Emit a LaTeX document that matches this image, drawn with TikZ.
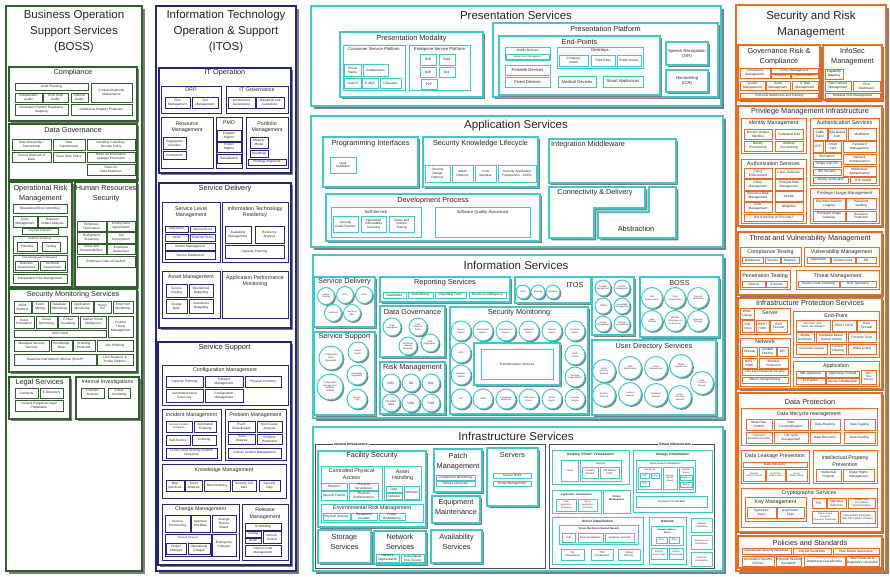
\documentclass[tikz,border=0pt]{standalone}
\usepackage{fontspec}
\setmainfont{Liberation Sans}
\usetikzlibrary{shadows}
\definecolor{bossg}{HTML}{2F5F2A}
\definecolor{itosb}{HTML}{25257F}
\definecolor{turq}{HTML}{3CC9C9}
\definecolor{orng}{HTML}{F26A1B}
\definecolor{shd}{HTML}{7E7E7E}
\newcommand\szA{\fontsize{11.5}{16}\selectfont}
\newcommand\szB{\fontsize{7.3}{10}\selectfont}
\newcommand\szC{\fontsize{5.3}{6.5}\selectfont}
\newcommand\szCs{\fontsize{4.2}{5}\selectfont}
\newcommand\szD{\fontsize{3.2}{3.8}\selectfont}
\newcommand\szE{\fontsize{2.6}{3.1}\selectfont}
\newcommand\szF{\fontsize{2.2}{2.6}\selectfont}
\tikzset{
  col/.style={draw=black},
  bxs/.style={col, fill=white, line width=.8pt, drop shadow={shadow xshift=1.4pt, shadow yshift=-1.4pt, fill=shd, opacity=1}},
  bxm/.style={col, fill=white, line width=1.2pt, drop shadow={shadow xshift=2.4pt, shadow yshift=-2.4pt, fill=shd, opacity=1}},
  bxl/.style={col, fill=white, line width=1.4pt, drop shadow={shadow xshift=3.4pt, shadow yshift=-3.4pt, fill=shd, opacity=1}},
  bt/.style={align=center, inner sep=0pt, text=black!85},
  cir/.style={circle, col, fill=white, line width=1pt, inner sep=0pt, align=center, font=\szF, text=black!85,
    drop shadow={shadow xshift=1.4pt, shadow yshift=-1.4pt, fill=shd, opacity=1}},
  frm/.style={draw=black!70, line width=.6pt},
  frmlbl/.style={fill=white, inner sep=1pt, font=\szD\bfseries}
}
\newcounter{bxn}
\NewDocumentCommand\bx{O{bxs}mmmmO{\szD}m}{%
  \stepcounter{bxn}%
  \draw[#1] (#2,#3) rectangle (#4,#5);
  \node[bt,font=#6] (b\thebxn) at ({(#2+#4)/2},{(#3+#5)/2}) {#7};}
\NewDocumentCommand\tb{O{bxm}mmmmmO{\szB}m}{%
  \stepcounter{bxn}%
  \draw[#1] (#2,#3) rectangle (#4,#5);
  \node[bt,font=#7] (t\thebxn) at ({(#2+#4)/2},#6) {#8};}
\NewDocumentCommand\ci{mmmO{\szF}m}{%
  \stepcounter{bxn}%
  \node[cir,font=#4,minimum size=2*#3] (c\thebxn) at (#1,#2) {#5};}
\begin{document}
\begin{tikzpicture}[x=1pt,y=-1pt]
\fill[white] (0,0) rectangle (890,576);
\useasboundingbox (0,0) rectangle (890,576);

\begin{scope}[col/.style={draw=bossg}]
\draw[bxl] (6,6) rectangle (142,571);
\node[bt,font=\szA] (boss) at (74,32) {Business Operation\\Support Services\\(BOSS)};
\tb{9}{67}{137}{121}{73}{Compliance}
\bx{15}{83}{88}{90}{Audit Planning}
\bx{15}{93}{42}{102}{Independent\\Audits}
\bx{43}{93}{68}{102}{Third Party\\Audits}
\bx{71}{93}{88}{102}{Internal\\Audits}
\bx{91}{83}{132}{102}{Contract/Authority\\Maintenance}
\bx{15}{104}{68}{115}{Information System Regulatory\\Mapping}
\bx{71}{104}{132}{115}{Intellectual Property Protection}
\tb{9}{124}{137}{180}{130}{Data Governance}
\bx{12}{139}{51}{150}{Data Ownership /\\Stewardship}
\bx{53}{139}{85}{150}{Data\\Classification}
\bx{87}{139}{135}{150}{Handling / Labeling /\\Security Policy}
\bx{12}{152}{51}{162}{Secure Disposal of\\Data}
\bx{53}{152}{85}{162}{Clear Desk Policy}
\bx{87}{152}{135}{162}{Rules for Information\\Leakage Prevention}
\bx{87}{164}{135}{175}{Rules for\\Data Retention}
\tb{9}{182}{72}{287}{193.5}{Operational Risk\\Management}
\bx{13}{204}{67}{213}{Operational Risk Committee}
\bx{13}{216}{37}{227}{Crisis\\Management}
\bx{38}{216}{67}{227}{Business\\Impact Analysis}
\bx{22}{228}{58}{234}[\szE]{Key Risk Indicators}
\tb[bxs]{13}{236}{67}{253}{239}[\szE]{Business Continuity}
\bx{17}{242}{37}{251}{Planning}
\bx{42}{242}{60}{251}{Testing}
\tb[bxs]{13}{255}{67}{272}{258}[\szE]{Risk Management Framework}
\bx{15}{261}{38}{270}{Business\\Assessment}
\bx{40}{261}{65}{270}{Technical\\Assessment}
\bx{13}{274}{67}{283}{Independent Risk Management}
\tb{75}{182}{137}{287}{194}{Human Resources\\Security}
\bx{77}{221}{106}{231}{Employee\\Termination}
\bx{107}{221}{135}{231}{Employment\\Agreements}
\bx{77}{232}{106}{243}{Background\\Screening}
\bx{107}{232}{135}{243}{Job\\Descriptions}
\bx{77}{244}{106}{254}{Roles and\\Responsibilities}
\bx{107}{244}{135}{254}{Employee\\Awareness}
\bx{77}{256}{135}{267}{Employee Code of Conduct}
\tb{9}{289}{137}{372}{295}{Security Monitoring Services}
\bx{14}{301}{31}{313}{SIEM\\Platform}
\bx{32}{301}{48}{313}{Event\\Mining}
\bx{50}{301}{69}{313}{Database\\Monitoring}
\bx{71}{301}{93}{313}{Application\\Monitoring}
\bx{94}{301}{111}{313}{Honey\\Pot}
\bx{113}{301}{133}{313}{End-Point\\Monitoring}
\bx{14}{316}{34}{328}{Event\\Correlation}
\bx{36}{316}{57}{328}{Cloud\\Monitoring}
\bx{58}{316}{78}{328}{E-Mail\\Journaling}
\bx{80}{316}{106}{328}{Market Threat\\Intelligence}
\bx{108}{316}{133}{337}{Counter\\Threat\\Management}
\bx{14}{330}{106}{337}{SOC Portal}
\bx{14}{340}{49}{351}{Managed Security\\Services}
\bx{51}{340}{72}{351}{Knowledge\\Base}
\bx{73}{340}{95}{351}{Branding\\Protection}
\bx{97}{340}{133}{351}{Anti-Phishing}
\bx{14}{354}{96}{365}{Real-time internetwork defense (SCAP)}
\bx{97}{354}{133}{365}{User Behavior \&\\Profile Patterns}
\tb{9}{377}{70}{419}{383}{Legal Services}
\bx{15}{388}{38}{398}{Contracts}
\bx{40}{388}{63}{398}{E-Discovery}
\bx{15}{400}{63}{411}{Incident Response Legal\\Preparation}
\tb{76}{377}{139}{419}{382}[\szC]{Internal Investigations}
\bx{81}{388}{104}{398}{Forensic\\Analysis}
\bx{108}{388}{130}{398}{e-Mail\\Journaling}
\end{scope}

\begin{scope}[col/.style={draw=itosb}]
\draw[bxl] (156,6) rectangle (296,571);
\node[bt,font=\szA] (itos) at (226,32) {Information Technology\\Operation \& Support\\(ITOS)};
\tb{159}{68}{291}{173}{73}{IT Operation}
\tb[bxs]{161}{86}{221}{113}{90}[\szC]{DRP}
\bx{165}{97}{190}{108}{Plan\\Management}
\bx{192}{97}{218}{108}{Test\\Management}
\tb[bxs]{226}{86}{288}{113}{90}[\szC]{IT Governance}
\bx{228}{97}{255}{108}{Architecture\\Governance}
\bx{256}{97}{284}{108}{Standards and\\Guidelines}
\tb[bxs]{161}{117}{213}{168}{127}[\szC]{Resource\\Management}
\bx{163}{137}{186}{149}{Segregation\\of Duties}
\bx{163}{151}{186}{159}{Contractors}
\tb[bxs]{216}{117}{242}{168}{123}[\szC]{PMO}
\bx{217}{130}{241}{141}{Program\\Mgmnt}
\bx{217}{142}{241}{152}{Project\\Mgmnt}
\bx{217}{154}{241}{163}{Remediation}
\tb[bxs]{246}{117}{288}{168}{127}[\szC]{Portfolio\\Management}
\bx{250}{137}{268}{148}{Maturity\\Model}
\bx{250}{150}{268}{157}{Roadmap}
\bx{248}{159}{286}{165}{Strategy Alignment}
\tb{159}{183}{291}{328}{189}{Service Delivery}
\tb[bxs]{162}{202}{220}{262}{212}[\szC]{Service Level\\Management}
\bx{165}{226}{188}{232}{Objectives}
\bx{190}{226}{215}{232}{Internal SLAs}
\bx{165}{234}{188}{241}{OLAs}
\bx{190}{234}{215}{241}{External SLAs}
\bx{165}{243}{215}{250}{Vendor Management}
\bx{165}{251}{215}{259}{Service Dashboard}
\tb[bxs]{222}{202}{288}{262}{212}[\szC]{Information Technology\\Resiliency}
\bx{225}{226}{251}{243}{Availability\\Management}
\bx{255}{226}{284}{243}{Resiliency\\Analysis}
\bx{225}{245}{284}{258}{Capacity Planning}
\tb[bxs]{162}{271}{220}{318}{277}[\szC]{Asset Management}
\bx{166}{284}{187}{297}{Service\\Costing}
\bx{189}{284}{213}{297}{Operational\\Budgeting}
\bx{166}{299}{187}{313}{Charge\\Back}
\bx{189}{299}{213}{313}{Investment\\Budgeting}
\tb[bxs]{222}{271}{288}{318}{281}[\szC]{Application Performance\\Monitoring}
\tb{158}{342}{291}{565}{348}{Service Support}
\tb[bxs]{162}{365}{288}{405}{370}[\szC]{Configuration Management}
\bx{166}{376}{203}{387}{Capacity Planning}
\bx{205}{376}{243}{387}{Software\\Management}
\bx{245}{376}{281}{387}{Physical Inventory}
\bx{166}{389}{203}{402}{Automated Asset\\Discovery}
\bx{205}{389}{243}{402}{Configuration\\Management}
\tb[bxs]{162}{409}{221}{460}{415}[\szC]{Incident Management}
\bx{166}{421}{192}{432}[\szE]{Security Incident\\Response}
\bx{194}{421}{216}{432}{Automated\\Ticketing}
\bx{166}{435}{190}{445}{Self-Service}
\bx{192}{435}{216}{445}{Ticketing}
\bx{166}{448}{217}{458}{Cross Cloud Security Incident\\Response}
\tb[bxs]{225}{409}{286}{460}{415}[\szC]{Problem Management}
\bx{228}{421}{255}{432}{Event\\Classification}
\bx{257}{421}{282}{432}{Root Cause\\Analysis}
\bx{228}{434}{255}{444}{Trend\\Analysis}
\bx{257}{434}{282}{444}{Problem\\Resolution}
\bx{228}{448}{281}{458}{Orphan Incident Management}
\tb[bxs]{162}{464}{286}{498}{470}[\szC]{Knowledge Management}
\bx{166}{480}{184}{491}{Best\\practices}
\bx{185}{480}{202}{491}{Trend\\Analysis}
\bx{204}{480}{230}{491}{Benchmarking}
\bx{232}{480}{256}{491}{Security Job\\Aids}
\bx{259}{480}{280}{491}{Security\\FAQ}
\tb[bxs]{162}{504}{239}{560}{509}[\szC]{Change Management}
\bx{165}{515}{190}{532}{Service\\Provisioning}
\bx{191}{515}{210}{532}{Approval\\Workflow}
\bx{212}{515}{236}{532}{Change\\Review\\Board}
\tb[bxs]{165}{534}{211}{556}{538}[\szE]{Planned Changes}
\bx{166}{543}{186}{554}{Project\\Changes}
\bx{188}{543}{210}{554}{Operational\\Chages}
\bx{212}{534}{236}{556}{Emergency\\Changes}
\tb[bxs]{242}{504}{288}{560}{513.5}[\szC]{Release\\Management}
\bx{245}{523}{281}{530}{Scheduling}
\bx{245}{531}{261}{537}{Testing}
\bx{245}{538}{261}{543}{Build}
\bx{263}{531}{281}{543}{Version\\Control}
\bx{245}{545}{281}{556}{Source Code\\Management}
\end{scope}

\begin{scope}[col/.style={draw=turq}]
\draw[bxl] (311,6) rectangle (721,106);
\node[bt,font=\szA] (pres) at (516,15) {Presentation Services};
\tb{340}{32}{483}{97}{39}{Presentation Modality}
\tb[bxs]{343}{45}{405}{90}{49}[\szCs]{Consumer Service Platform}
\bx{344}{64}{361}{76}{Social\\Media}
\bx{363}{64}{388}{76}{Collaboration}
\bx{344}{78}{361}{88}{Search}
\bx{362}{78}{378}{88}{E-Mail}
\bx{380}{78}{401}{88}{e-Readers}
\tb[bxs]{409}{45}{470}{90}{49}[\szCs]{Enterprise Service Platform}
\bx{420}{54}{436}{65}{B2B}
\bx{439}{54}{455}{65}{B2M}
\bx{420}{67}{436}{77}{B2E}
\bx{439}{67}{455}{77}{B2C}
\bx{421}{79}{437}{89}{P2P}
\tb{493}{23}{718}{97}{29}{Presentation Platform}
\tb{499}{36}{660}{95}{42}{End-Points}
\tb[bxs]{505}{47}{550}{60}{50.5}[\szD]{Mobile Devices}
\bx{506}{54}{549}{59}[\szF]{Mobile Device Management}
\bx{505}{65}{550}{75}[\szCs]{Portable Devices}
\bx{505}{77}{550}{87}[\szCs]{Fixed Devices}
\tb[bxs]{557}{47}{643}{68}{50.5}[\szCs]{Desktops}
\bx{559}{55}{588}{66}{Company\\owned}
\bx{591}{55}{615}{66}{Third Party}
\bx{617}{55}{641}{66}{Public Kiosks}
\bx{558}{76}{596}{87}[\szCs]{Medical Devices}
\bx{603}{76}{643}{87}[\szCs]{Smart Appliances}
\bx[bxm]{666}{42}{708}{65}[\szCs]{Speech Recognition\\(IVR)}
\bx[bxm]{666}{70}{708}{92}[\szCs]{Handwriting\\(ICR)}

\draw[bxl] (311,116) rectangle (723,247);
\node[bt,font=\szA] (apps) at (516,126) {Application Services};
\tb{323}{137}{418}{187}{144}{Programming Interfaces}
\bx{330}{157}{356}{173}{Input\\Validation}
\tb{423}{137}{538}{187}{144}{Security Knowledge Lifecycle}
\bx{425}{165}{450}{182}{Security\\Design\\Patterns}
\bx{452}{165}{473}{182}{Attack\\Patterns}
\bx{475}{165}{496}{182}{Code\\Samples}
\bx{498}{165}{536}{182}{Security Application\\Frameworks - ACEG}
\draw[bxm] (549,139) rectangle (676,183);
\node[bt,font=\szB,anchor=west] (intmw) at (551,145) {Integration Middleware};
\tb{326}{194}{540}{241}{201}{Development Process}
\tb[bxs]{331}{207}{421}{237}{212}[\szCs]{Self-Service}
\bx{333}{216}{358}{232}{Security\\Code Reviews}
\bx{361}{216}{386}{232}{Application\\Vulnerability\\Scanning}
\bx{389}{216}{414}{232}{Stress and\\Volume\\Testing}
\tb[bxs]{435}{207}{530}{237}{212}[\szCs]{Software Quality Assurance}
\draw[bxm] (549,187) -- (645,187) -- (645,208) -- (594,208) -- (594,238) -- (549,238) -- cycle;
\node[bt,font=\szB] (condel) at (595,193) {Connectivity \& Delivery};
\draw[bxm] (598,212) -- (649,212) -- (649,187) -- (676,187) -- (676,238) -- (598,238) -- cycle;
\node[bt,font=\szB] (abstr) at (636,229) {Abstraction};

\draw[bxl] (313,255) rectangle (723,418);
\node[bt,font=\szA] (infos) at (516,265) {Information Services};
\tb{314}{277}{375}{327}{282}{Service Delivery}
\ci{326}{296}{8.5}{Service\\Catalog}
\ci{345}{295}{8.5}{SLAs}
\ci{364}{295}{8.5}{OLAs}
\ci{333}{313}{8.5}{Contracts}
\ci{352}{313}{8.5}{Recovery\\Plans}
\tb{314}{332}{375}{415}{337}{Service Support}
\ci{331}{358}{12}{Configuration\\Rules\\(Metadata)}
\ci{358}{352}{10}{Service\\Events}
\ci{357}{375}{10}{Knowledge\\Repository}
\ci{330}{387}{13}{Configuration\\Management\\Database\\(CMDB)}
\ci{357}{399}{10}{Change\\Logs}
\tb{380}{277}{510}{302}{283}{Reporting Services}
\bx{383}{292}{406}{298}{Dashboard}
\bx{408}{292}{433}{298}{Data Mining}
\bx{435}{292}{466}{298}{Reporting Tools}
\bx{469}{292}{506}{298}{Business Intelligence}
\draw[bxm] (515,277) rectangle (591,303);
\node[bt,font=\szB] (itosi) at (575,285) {ITOS};
\foreach \x/\lbl in {523/PMO,538/Strategy,553/Roadmap}
  \ci{\x}{292}{7}{\lbl};
\draw[bxm] (592,277) rectangle (634,335);
\ci{603}{288}{8}{Problem\\Management}
\ci{622}{288}{8}{Incident\\Management}
\ci{603}{306}{8}{CMDB}
\ci{622}{306}{8}{Knowledge\\Management}
\ci{603}{324}{8}{Service\\Management}
\ci{622}{324}{8}{Change\\Management}
\tb{640}{277}{719}{337}{283}{BOSS}
\ci{652}{298}{10.5}{Risk\\Assessments}
\ci{675}{298}{10.5}{Data\\Classification}
\ci{698}{298}{10.5}{Process\\Ownership}
\ci{652}{321}{10.5}{Audit\\Findings}
\ci{675}{321}{10.5}{HR Data\\(Employees \&\\Contractors)}
\ci{698}{321}{10.5}{Business\\Strategy}
\tb{380}{306}{445}{357}{312}{Data Governance}
\ci{392}{327}{9}{Data\\Segregation}
\ci{418}{327}{9}{Data\\Retention\\Rules}
\ci{408}{346}{9}{Information\\Leakage\\Metadata}
\ci{430}{343}{9}{Data\\Aggregation}
\tb{380}{362}{445}{414}{368}{Risk Management}
\foreach \x/\lbl in {391/GRC,411/RA,431/BIA}
  \ci{\x}{383}{9}[\szD]{\lbl};
\ci{391}{403}{9}[\szE]{DR \& BC\\Plans}
\ci{411}{403}{9}[\szD]{VRA}
\ci{431}{403}{9}[\szD]{TVM}
\tb{450}{307}{588}{414}{313}{Security Monitoring}
\foreach \x/\lbl in {461/{Session\\Events},483/{Authorization\\Events},506/{Authentication\\Events},529/{Application\\Events},552/{Network\\Events},575/{Computer\\Events}}
  \ci{\x}{331}{10}{\lbl};
\ci{461}{353}{10}{HIPS}
\ci{461}{375}{10}{Database\\Events}
\ci{575}{355}{10}{NIPS\\Events}
\ci{575}{377}{10}{Privilege\\Usage Events}
\foreach \x/\lbl in {461/DLP,483/SIEM,506/{Compliance\\Monitoring},529/{eDiscovery\\Events},552/{Email\\Events},575/{Inventory\\Events}}
  \ci{\x}{399}{10}{\lbl};
\draw[bxm] (474,343) rectangle (560,385);
\draw[col,line width=.9pt] (481,349) rectangle (553,379);
\node[bt,font=\szD] (trans) at (517,364) {Transformation Services};
\tb{592}{340}{716}{415}{347}{User Directory Services}
\ci{604}{371}{11.5}{Active\\Directory\\Services}
\ci{630}{368}{11.5}{LDAP\\Repositories}
\ci{656}{368}{11.5}{X.500\\Repositories}
\ci{681}{366}{11.5}{DBMS\\Repositories}
\ci{702}{383}{11.5}{Meta\\Directory\\Services}
\ci{604}{395}{11.5}{Registry\\Services}
\ci{630}{394}{11.5}{Location\\Services}
\ci{656}{395}{11.5}{Federated\\Services}
\ci{680}{397}{11.5}{Virtual\\Directory\\Services}

\draw[bxl] (313,427) rectangle (723,571);
\node[bt,font=\szA] (infra) at (516,436) {Infrastructure Services};
\draw[frm] (315,444) rectangle (545,568);
\node[frmlbl] (intinf) at (351,444) {Internal Infrastructure};
\draw[frm] (549,444) rectangle (714,568);
\node[frmlbl] (virinf) at (675,444) {Virtual Infrastructure};
\tb{318}{451}{426}{527}{456}{Facility Security}
\tb[bxs]{321}{466}{382}{500}{474}[\szC]{Controlled Physical\\Access}
\bx{321}{483}{347}{490}{Barriers}
\bx{349}{483}{378}{490}{Physical\\Surveillance}
\bx{321}{491}{347}{500}{Security Patrols}
\bx{349}{491}{378}{500}{Physical\\Authentication}
\tb[bxs]{384}{466}{421}{500}{475}[\szC]{Asset\\Handling}
\bx{386}{486}{402}{492}{Data}
\bx{386}{493}{402}{499}{Software}
\bx{404}{486}{419}{499}{Hardware}
\tb[bxs]{321}{504}{423}{522}{508.5}[\szC]{Environmental Risk Management}
\bx{323}{513}{350}{520}{Physical Security}
\bx{351}{513}{377}{520}{Equipment\\Location}
\bx{379}{513}{405}{520}{Power\\Redundancy}
\tb{434}{449}{482}{492}{461.5}{Patch\\Management}
\bx{436}{475}{475}{480}{Compliance Monitoring}
\bx{436}{481}{475}{486}{Service Discovery}
\tb{487}{448}{538}{506}{455}{Servers}
\bx{493}{473}{531}{478}{Secure Build}
\bx{493}{481}{531}{486}{Image Management}
\tb{432}{496}{480}{523}{507}{Equipment\\Maintenance}
\tb{318}{530}{371}{563}{542}{Storage\\Services}
\tb{374}{531}{426}{564}{542}{Network\\Services}
\bx{376}{554}{399}{562}{Network\\Segmentation}
\bx{401}{554}{424}{562}{Authoritative\\Time Source}
\tb{431}{530}{482}{563}{542}{Availability\\Services}
\tb[bxs]{552}{450}{629}{484}{454.5}[\szD\bfseries]{Desktop ``Client'' Virtualization}
\bx{561}{460}{578}{481}[\szE]{Local}
\tb[bxs]{580}{460}{621}{481}{463.5}[\szE]{Remote}
\bx{582}{467}{598}{478}[\szE]{Session\\Based}
\bx{600}{467}{619}{478}[\szE]{VM Based\\(VDI)}
\tb[bxs]{633}{450}{712}{512}{455}[\szD\bfseries]{Storage Virtualization}
\tb[bxs]{636}{460}{695}{492}{464}[\szE]{Block-Based Virtualization}
\tb[bxs]{638}{467}{661}{489}{470}[\szF]{Host Based}
\bx{640}{473}{649}{478}[\szF]{LVM}
\bx{651}{473}{659}{478}[\szF]{LDM}
\bx{640}{481}{649}{486}[\szF]{LUN}
\bx{663}{467}{677}{489}[\szF]{Storage\\Device\\Based}
\tb[bxs]{679}{467}{693}{489}{471}[\szF]{Network\\Based}
\bx{680}{475}{692}{480}[\szF]{Appliance}
\bx{680}{482}{692}{487}[\szF]{Switch}
\bx{636}{496}{707}{507}[\szE]{File Based Virtualization}
\tb[bxs]{552}{490}{601}{513}{494.5}[\szE\bfseries]{Application Virtualization}
\bx{556}{499}{576}{511}[\szF]{Client\\Application\\Streaming}
\bx{578}{499}{597}{511}[\szF]{Server\\Application\\Streaming}
\tb[bxs]{603}{490}{630}{513}{498.5}[\szE\bfseries]{Virtual\\Workspaces}
\tb[bxs]{552}{517}{643}{564}{521.5}[\szD\bfseries]{Server Virtualization}
\tb[bxs]{559}{525}{638}{544}{529}[\szE\bfseries]{Virtual Machines (Hosted Based)}
\bx{562}{533}{575}{542}[\szE]{Full}
\bx{578}{533}{603}{542}[\szE]{Para-Virtualization}
\bx{605}{533}{634}{542}[\szE]{Hardware Assisted}
\bx{561}{549}{584}{560}[\szE]{OS\\Virtualization}
\bx{591}{549}{613}{560}[\szE]{TPM\\Virtualization}
\bx{618}{549}{640}{560}[\szE]{Virtual\\Memory}
\tb[bxs]{649}{517}{686}{564}{521.5}[\szD\bfseries]{Network}
\tb[bxs]{651}{526}{683}{545}{531.5}[\szF\bfseries]{Network Address\\Space}
\bx{656}{537}{667}{543}[\szF]{IPv4}
\bx{669}{537}{679}{543}[\szF]{IPv6}
\bx{651}{548}{667}{559}[\szF]{External\\(Inter-Cloud)}
\bx{669}{548}{683}{559}[\szF]{Internal\\(Intra-Cloud)}
\bx{691}{518}{712}{532}[\szF]{Database\\Virtualization}
\bx{691}{535}{712}{549}[\szF]{Mobile Device\\Virtualization}
\bx{691}{552}{712}{566}[\szF]{Smartcard\\Virtualization}
\end{scope}

\begin{scope}[col/.style={draw=orng}]
\draw[bxl] (736,5) rectangle (886,571);
\node[bt,font=\szA] (secrisk) at (811,24.5) {Security and Risk\\Management};
\tb{738}{45}{820}{100}{57}{Governance Risk \&\\Compliance}
\bx{740}{68}{770}{78}{Compliance\\Management}
\bx{771}{68}{818}{73}{Policy Management}
\bx{771}{74}{790}{78}[\szF]{Exceptions}
\bx{791}{74}{818}{78}[\szF]{Technical Controls}
\bx{740}{81}{765}{90}{Vendor\\Management}
\bx{766}{81}{790}{90}{Audit\\Management}
\bx{792}{81}{818}{90}{IT Risk\\Management}
\bx{740}{93}{818}{98}{Technical Awareness and Training}
\tb{823}{45}{882}{100}{57}{InfoSec\\Management}
\bx{825}{69}{843}{79}{Capability\\Mapping}
\bx{825}{81}{851}{91}{Risk Portfolio\\Management}
\bx{853}{81}{880}{91}{Risk\\Dashboard}
\bx{825}{93}{880}{98}{Residual Risk Management}
\tb{738}{106}{882}{226}{112}{Privilege Management Infrastructure}
\tb[bxs]{741}{118}{806}{153}{123}[\szC]{Identity Management}
\bx{744}{129}{772}{139}{Domain Unique\\Identifier}
\bx{775}{129}{803}{139}{Federated IDM}
\bx{744}{141}{772}{151}{Identity\\Provisioning}
\bx{775}{141}{803}{151}{Attribute\\Provisioning}
\tb[bxs]{810}{118}{879}{185}{123}[\szC]{Authentication Services}
\bx{813}{128}{827}{140}{SAML\\Token}
\bx{828}{128}{846}{140}{Risk Based\\Auth}
\bx{848}{128}{876}{140}{Multifactor}
\bx{813}{141}{823}{152}{OTP}
\bx{825}{141}{841}{152}{Smart\\Card}
\bx{843}{141}{876}{152}{Password\\Management}
\bx{813}{153}{841}{159}{Biometrics}
\bx{843}{154}{876}{164}{Network\\Authentication}
\bx{813}{161}{841}{167}{Single Sign On}
\bx{813}{169}{841}{175}{WS-Security}
\bx{843}{166}{876}{176}{Middleware\\Authentication}
\bx{813}{177}{848}{183}{Identity Verification}
\bx{850}{177}{876}{183}{OTP AuthN}
\tb[bxs]{741}{159}{806}{223}{164}[\szC]{Authorization Services}
\bx{744}{168}{772}{178}{Policy\\Enforcement}
\bx{775}{168}{803}{178}{Policy Definition}
\bx{744}{179}{772}{190}{Policy\\Management}
\bx{775}{179}{803}{190}{Principal Data\\Management}
\bx{744}{191}{772}{201}{Resource Data\\Management}
\bx{775}{191}{803}{201}{XACML}
\bx{744}{202}{772}{212}{Role\\Management}
\bx{775}{202}{803}{212}{Obligation}
\bx{744}{214}{803}{221}{Out of the Box (OTB) AuthZ}
\tb[bxs]{810}{188}{879}{223}{193}[\szCs]{Privilege Usage Management}
\bx{813}{198}{845}{209}{Keystroke/Session\\Logging}
\bx{846}{198}{876}{209}{Password\\Vaulting}
\bx{813}{211}{845}{221}{Privileged Usage\\Gateway}
\bx{846}{211}{876}{221}{Resource\\Protection}
\tb{738}{232}{882}{295}{239}{Threat and Vulnerability Management}
\tb[bxs]{740}{247}{801}{266}{252}[\szC]{Compliance Testing}
\bx{742}{257}{763}{263}{Databases}
\bx{765}{257}{780}{263}{Servers}
\bx{781}{257}{799}{263}{Network}
\tb[bxs]{804}{247}{879}{266}{252}[\szC]{Vulnerability Management}
\bx{807}{257}{830}{263}{Application}
\bx{831}{257}{855}{263}{Infrastructure}
\bx{856}{257}{876}{263}{DB}
\tb[bxs]{740}{270}{790}{289}{276}[\szC]{Penetration Testing}
\bx{742}{281}{765}{287}{Internal}
\bx{766}{281}{787}{287}{External}
\tb[bxs]{796}{270}{879}{289}{276}[\szC]{Threat Management}
\bx{798}{281}{839}{287}{Source Code Scanning}
\bx{840}{281}{876}{287}{Risk Taxonomy}
\tb{738}{298}{882}{389}{303}{Infrastructure Protection Services}
\tb[bxs]{740}{308}{790}{334}{313}[\szC]{\hspace*{10pt}Server}
\bx{740}{308}{754}{319}{White\\Listing}
\bx{742}{320}{754}{332}{Anti-\\Virus}
\bx{756}{320}{769}{332}{HIPS /\\HIDS}
\bx{770}{320}{787}{332}{Host\\Firewall}
\tb[bxs]{793}{311}{879}{357}{316}[\szC]{End-Point}
\bx{796}{320}{830}{331}[\szE]{Anti-Virus, Anti-\\Spam, Anti-Malware}
\bx{832}{320}{856}{331}{HIPS / HIDS}
\bx{857}{320}{876}{331}{Host\\Firewall}
\bx{796}{332}{814}{342}{Media\\Lockdown}
\bx{816}{332}{846}{342}{Hardware Based\\Trusted Assets}
\bx{848}{332}{876}{342}{Forensic Tools}
\bx{796}{344}{827}{354}{Inventory Control}
\bx{830}{344}{846}{354}{Content\\Filtering}
\bx{848}{344}{876}{354}{White Listing}
\tb[bxs]{740}{338}{790}{386}{342}[\szC]{Network}
\bx{742}{347}{757}{356}{Firewall}
\bx{759}{347}{776}{356}{Content\\Filtering}
\bx{777}{347}{788}{356}{DPI}
\bx{742}{358}{757}{368}{NIPS /\\NIDS}
\bx{759}{358}{788}{368}{Wireless\\Protection}
\bx{742}{369}{788}{375}{Link Layer Network Security}
\bx{742}{377}{788}{383}{Black Listing Filtering}
\tb[bxs]{793}{361}{879}{386}{366}[\szC]{Application}
\bx{796}{371}{825}{377}{XML Appliance}
\bx{826}{371}{859}{377}{Application Firewall}
\bx{796}{378}{825}{384}{Encryption}
\bx{826}{378}{859}{384}{Secure Collaboration}
\bx{861}{370}{876}{384}[\szE]{Real\\Time\\Filtering}
\tb{738}{393}{882}{532}{402}{Data Protection}
\tb[bxs]{741}{408}{877}{445}{414}[\szC]{Data lifecycle management}
\bx{746}{419}{772}{430}{Meta Data\\Control}
\bx{774}{419}{808}{430}{Data\\De-Identification}
\bx{810}{419}{840}{430}{Data Masking}
\bx{844}{419}{875}{430}{Data Tagging}
\bx{746}{432}{772}{443}[\szE]{eSignature\\(Unstructured data)}
\bx{774}{432}{808}{443}{Life cycle\\management}
\bx{810}{432}{840}{443}{Data Discovery}
\bx{844}{432}{875}{443}{Data Seeding}
\tb[bxs]{741}{450}{809}{483}{456}[\szC]{Data Leakage Prevention}
\bx{743}{462}{807}{467}{Data Discovery}
\bx{743}{469}{765}{481}[\szF]{Network\\(Data in Transit)}
\bx{766}{469}{785}{481}[\szF]{End-Point\\(Data in Use)}
\bx{786}{469}{807}{481}[\szF]{Server\\(Data at Rest)}
\tb[bxs]{813}{450}{877}{483}{461}[\szC]{Intellectual Property\\Prevention}
\bx{816}{469}{841}{481}{Intellectual\\Property}
\bx{843}{469}{874}{481}{Digital Rights\\Management}
\tb[bxs]{741}{488}{877}{527}{493.5}[\szC]{Cryptographic Services}
\tb[bxs]{745}{497}{806}{521}{502.5}[\szC]{Key Management}
\bx{747}{507}{776}{518}{Symmetric\\Keys}
\bx{777}{507}{804}{518}{Asymmetric\\Keys}
\bx{812}{498}{826}{508}{PKI}
\bx{827}{498}{846}{508}{Signature\\Services}
\bx{848}{498}{875}{508}[\szE]{Data-in-use\\Encryption\\(Homomorphic)}
\bx{812}{511}{838}{523}[\szF]{Data-in-Transit\\Encryption\\(Transitory, Ephemeral)}
\bx{840}{511}{875}{523}[\szE]{Data-at-Rest Encryption\\(DB, File System, Archive)}
\tb{738}{536}{882}{568}{543}{Policies and Standards}
\bx{742}{548}{791}{554}{Operational Security Baselines}
\bx{793}{548}{831}{554}{Job Aid Guidelines}
\bx{833}{548}{879}{554}{Role Based Awareness}
\bx{742}{556}{774}{566}{Information Security\\Policies}
\bx{776}{556}{801}{566}{Technical Security\\Standards}
\bx{804}{556}{845}{566}{Data/Asset Classification}
\bx{846}{556}{879}{566}{Best Practices \&\\Regulatory correlation}
\end{scope}
\end{tikzpicture}
\end{document}
